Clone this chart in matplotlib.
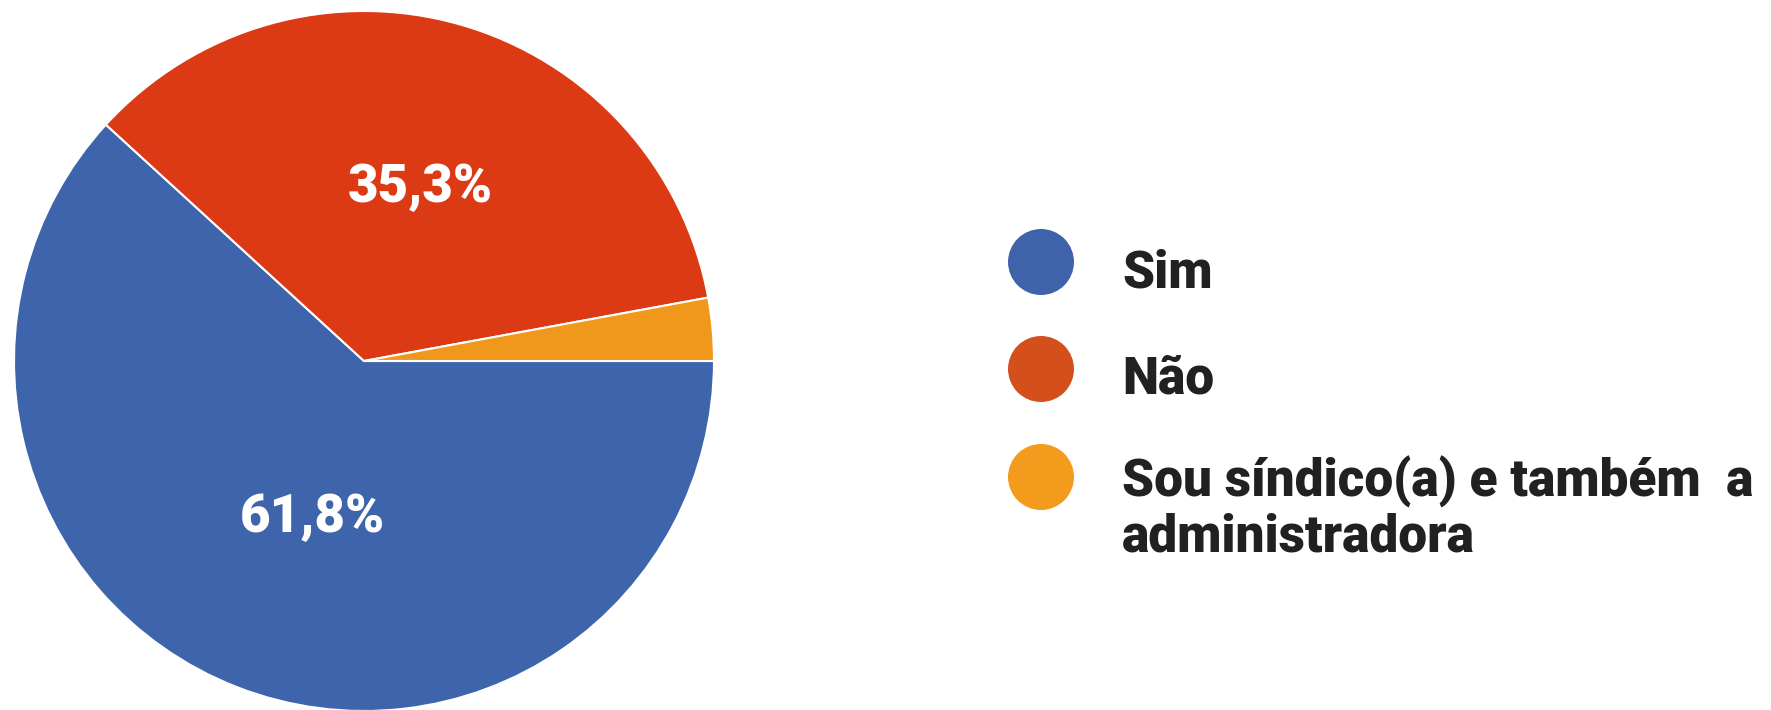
import numpy as np
import matplotlib
matplotlib.use("Agg")
import matplotlib.pyplot as plt
from matplotlib.patches import Ellipse

# data
labels = ["Sim", "Não", "Sou síndico(a) e também  a\nadministradora"]
values = [61.8, 35.3, 2.9]
pct_text = ["61,8%", "35,3%", ""]
pie_colors = ["#3E64AB", "#DC3915", "#F0981B"]
legend_colors = ["#3F63AA", "#D44F1B", "#F39B1D"]

W, H = 1771, 710
FONT = "Roboto"

fig = plt.figure(figsize=(W / 100, H / 100), dpi=100)
fig.patch.set_facecolor("white")

# pie: centre (364, 361) px from top-left, radius 350 px
cx, cy, r = 364, 361, 350
ax = fig.add_axes([(cx - r) / W, (H - cy - r) / H, 2 * r / W, 2 * r / H])
wedges, _ = ax.pie(values, colors=pie_colors, startangle=0, counterclock=False,
                   radius=1.0,
                   wedgeprops=dict(edgecolor="white", linewidth=1.5))
ax.set_xlim(-1, 1)
ax.set_ylim(-1, 1)
ax.set_aspect("equal")
ax.axis("off")

# percentage labels inside slices
label_pos = {0: (312, 518), 1: (420, 188)}
for i, (px, py) in label_pos.items():
    fig.text(px / W, 1 - py / H, pct_text[i], color="white", fontsize=38,
             fontweight="black", family=FONT, ha="center", va="center")

# legend: circle centres and text baselines in px from the top
leg_y = [262, 369, 477]
text_base = [[288], [393], [497, 551]]
for c, y, lab, bases in zip(legend_colors, leg_y, labels, text_base):
    fig.patches.append(Ellipse((1041 / W, 1 - y / H), 66 / W, 66 / H,
                               transform=fig.transFigure, facecolor=c,
                               edgecolor="none"))
    for line, b in zip(lab.split("\n"), bases):
        fig.text(1122 / W, 1 - b / H, line, color="#212121", fontsize=37,
                 fontweight="black", family=FONT, ha="left", va="baseline")

fig.savefig("out.png", dpi=100)
